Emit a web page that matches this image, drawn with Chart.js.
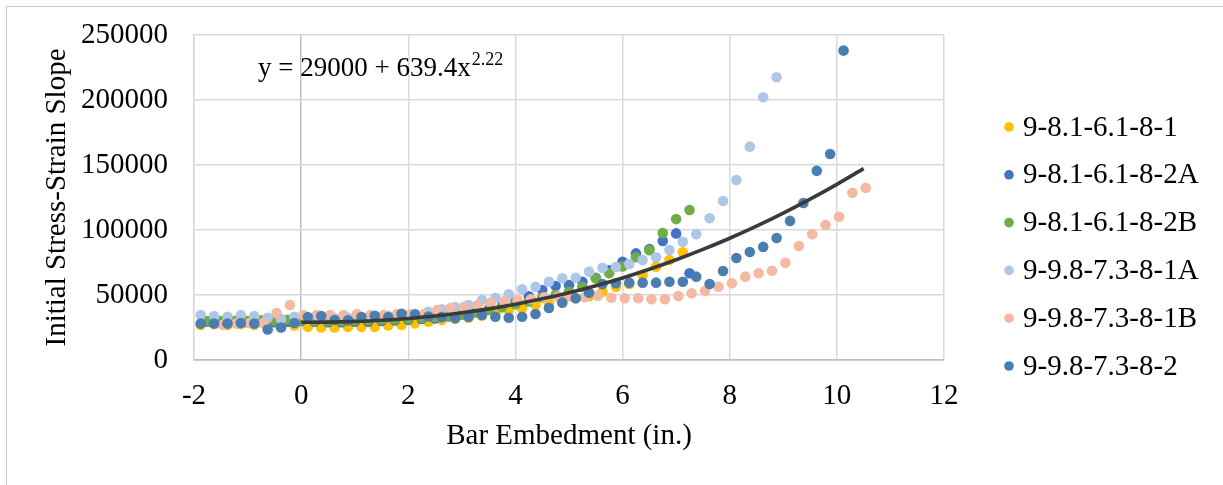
<!DOCTYPE html>
<html>
<head>
<meta charset="utf-8">
<script src="https://cdn.jsdelivr.net/npm/chart.js@4.4.0/dist/chart.umd.min.js"></script>
<style>
  html, body { margin: 0; padding: 0; background: #fff; }
  #wrap { width: 1223px; height: 485px; position: relative; }
</style>
</head>
<body>
<div id="wrap"><canvas id="chart"></canvas></div>
<script>
// Values

const seriesNames = ['9-8.1-6.1-8-1', '9-8.1-6.1-8-2A', '9-8.1-6.1-8-2B', '9-9.8-7.3-8-1A', '9-9.8-7.3-8-1B', '9-9.8-7.3-8-2'];
const seriesColors = ['#FFC000', '#4472C4', '#70AD47', '#AEC6E8', '#F4B9A3', '#4A7EB0'];

const xTicks = [-2, 0, 2, 4, 6, 8, 10, 12];
const yTicks = [0, 50000, 100000, 150000, 200000, 250000];

// x positions (in.) for the series that share a spacing
const xGridA = [-1.875, -1.625, -1.375, -1.125, -0.875, -0.625, -0.375, -0.125, 0.125, 0.375, 0.625, 0.875,
    1.125, 1.375, 1.625, 1.875, 2.125, 2.375, 2.625, 2.875, 3.125, 3.375, 3.625, 3.875, 4.125, 4.375,
    4.625, 4.875, 5.125, 5.375, 5.625, 5.875, 6.125, 6.375, 6.625, 6.875, 7.125, 7.375, 7.625, 7.875,
    8.125, 8.375, 8.625, 8.875, 9.125, 9.375, 9.625, 9.875, 10.125];
const xGridB = [-1.75, -1.5, -1.25, -1, -0.75, -0.5, -0.25, 0, 0.25, 0.5, 0.75, 1, 1.25, 1.5, 1.75, 2,
    2.25, 2.5, 2.75, 3, 3.25, 3.5, 3.75, 4, 4.25, 4.5, 4.75, 5, 5.25, 5.5, 5.75, 6, 6.25, 6.5, 6.75, 7, 7.25];
const xSalmon = [-1.46, -1.21, -0.96, -0.71, -0.46, -0.21, 0.04, 0.29, 0.54, 0.79, 1.04, 1.29, 1.54, 1.79,
    2.04, 2.29, 2.54, 2.79, 3.04, 3.29, 3.54, 3.79, 4.04, 4.29, 4.54, 4.79, 5.04, 5.29, 5.54, 5.79, 6.04,
    6.29, 6.54, 6.79, 7.04, 7.29, 7.54, 7.79, 8.04, 8.29, 8.54, 8.79, 9.04, 9.29, 9.54, 9.79, 10.04, 10.29, 10.54];

const y81_1 = [27000, 27500, 27000, 27500, 27000, 27500, 27500, 26500, 25500, 25000, 25000, 25500,
    25500, 25500, 26500, 27000, 28200, 29500, 30800, 31500, 32500, 34000, 36000, 38500, 39800, 42300,
    43600, 45500, 47500, 49000, 52500, 56400, 58500, 65400, 71800, 76900, 82800];
const y81_2A = [29500, 29000, 29500, 29000, 29500, 29000, 29500, 30000, 29500, 29000, 29000, 29500,
    29500, 30000, 30500, 31000, 31500, 32000, 33500, 35000, 37000, 39000, 41500, 45000, 49000, 53800,
    56900, 57700, 60200, 63300, 69000, 75600, 82000, 85400, 91500, 97400, 66700];
const y81_2B = [30000, 30000, 30000, 30000, 30500, 30500, 31000, 30500, 30000, 30000, 30000, 30500,
    30500, 31000, 31500, 32000, 32500, 33000, 34000, 35000, 36500, 38500, 40500, 43000, 45000, 48000,
    50000, 52500, 56400, 62800, 66700, 72000, 79000, 84500, 97700, 108400, 115400];
const y98_1A = [34600, 33800, 33300, 34600, 33800, 32500, 31500, 33300, 31000, 31500, 32000, 32500,
    33000, 33500, 34000, 34500, 35500, 37100, 39000, 40500, 42300, 46200, 47900, 50500, 54400, 56400,
    60200, 62800, 63300, 68000, 71000, 71500, 73800, 76900, 79000, 84600, 91000, 96800, 109000, 122300,
    138500, 164100, 202100, 217500];
const y98_1B = [27000, 28000, 28500, 28500, 36200, 42300, 34600, 34600, 34600, 34600, 35400, 34600,
    34600, 35400, 35400, 35400, 38500, 40000, 41000, 42300, 44100, 45400, 46200, 46700, 48200, 48700,
    48700, 48200, 49500, 47900, 47500, 47500, 46700, 46700, 49200, 51300, 53300, 56400, 59000, 64100,
    66700, 68700, 74800, 87700, 96700, 103800, 110200, 128700, 132500];
const y98_2 = [28000, 28000, 28000, 28500, 28000, 23500, 25000, 28500, 33000, 33800, 30800, 30500,
    33000, 34000, 33000, 35500, 35000, 33500, 33000, 32300, 33300, 34600, 33300, 32500, 33300, 35400,
    40000, 44100, 47500, 51800, 58500, 59000, 59500, 59500, 59500, 60200, 60200, 64100, 58500, 68500,
    78500, 83100, 87000, 93800, 107000, 120800, 145500, 158500, 238000];

// power trend line
const trendX = [0, 0.5, 1, 1.5, 2, 2.5, 3, 3.5, 4, 4.5, 5, 5.5, 6, 6.5, 7, 7.5, 8, 8.5, 9, 9.5, 10, 10.5];
const trendY = [29000, 29140, 29640, 30570, 31980, 33890, 36330, 39320, 42880, 47030, 51780, 57140,
    63140, 69770, 77080, 85040, 93660, 102980, 112990, 123700, 135140, 147230];
const trendLabel = 'y = 29000 + 639.4x';
const trendExponent = '2.22';

const seriesX = [xGridA, xGridB, xGridB, xGridA, xSalmon, xGridA];
const seriesY = [y81_1, y81_2A, y81_2B, y98_1A, y98_1B, y98_2];

const FONT = '"Liberation Serif", "Times New Roman", serif';

function toPoints(xs, ys) {
    return ys.map((y, i) => ({ x: xs[i], y: y }));
}

const datasets = seriesNames.map((name, i) => ({
    type: 'scatter',
    label: name,
    data: toPoints(seriesX[i], seriesY[i]),
    backgroundColor: seriesColors[i],
    borderWidth: 0,
    pointRadius: 5.3,
    pointHoverRadius: 5.3,
    order: seriesNames.length - i   // later series drawn on top, like the original
}));

datasets.push({
    type: 'line',
    label: 'trend',
    data: toPoints(trendX, trendY),
    borderColor: '#3A3A3A',
    borderWidth: 3.6,
    pointRadius: 0,
    fill: false,
    cubicInterpolationMode: 'monotone',
    order: 0
});

// white background, outer frame, equation and legend
const decorations = {
    id: 'decorations',
    beforeDraw(chart) {
        const ctx = chart.ctx;
        ctx.save();
        ctx.fillStyle = '#fff';
        ctx.fillRect(0, 0, chart.width, chart.height);
        ctx.strokeStyle = '#C8C8C8';
        ctx.lineWidth = 1;
        ctx.beginPath();
        ctx.moveTo(6.5, chart.height);
        ctx.lineTo(6.5, 6.5);
        ctx.lineTo(chart.width, 6.5);
        ctx.stroke();
        ctx.restore();
    },
    afterDraw(chart) {
        const ctx = chart.ctx;
        ctx.save();
        ctx.fillStyle = '#000';
        ctx.textBaseline = 'alphabetic';
        ctx.textAlign = 'left';
        ctx.font = '27px ' + FONT;
        const ex = 258, ey = 76;
        ctx.fillText(trendLabel, ex, ey);
        const w = ctx.measureText(trendLabel).width;
        ctx.font = '18px ' + FONT;
        ctx.fillText(trendExponent, ex + w + 1, ey - 11);

        // legend
        ctx.font = '29px ' + FONT;
        ctx.textBaseline = 'middle';
        const legendTop = 127, legendStep = 47.8;
        seriesNames.forEach((name, i) => {
            const y = legendTop + i * legendStep;
            ctx.fillStyle = seriesColors[i];
            ctx.beginPath();
            ctx.arc(1009, y, 4.8, 0, Math.PI * 2);
            ctx.fill();
            ctx.fillStyle = '#000';
            ctx.fillText(name, 1023, y + 1);
        });
        ctx.restore();
    }
};

const gridColor = '#D9D9D9';
const axisColor = '#BFBFBF';

new Chart(document.getElementById('chart').getContext('2d'), {
    data: { datasets: datasets },
    options: {
        responsive: true,
        maintainAspectRatio: false,
        animation: false,
        layout: { padding: { top: 35, right: 279, left: 0, bottom: 0 } },
        plugins: {
            legend: { display: false },
            tooltip: { enabled: false }
        },
        scales: {
            x: {
                type: 'linear',
                min: -2,
                max: 12,
                afterBuildTicks: (scale) => { scale.ticks = xTicks.map(v => ({ value: v })); },
                afterFit: (scale) => { scale.height = 125; },
                grid: {
                    drawTicks: false,
                    lineWidth: 1.5,
                    color: (c) => (c.tick && c.tick.value === 0 ? axisColor : gridColor)
                },
                border: { color: axisColor, width: 1.5 },
                ticks: {
                    padding: 19,
                    color: '#000',
                    font: { family: FONT, size: 29 },
                    maxRotation: 0,
                    callback: (v) => String(v)
                },
                title: {
                    display: true,
                    text: 'Bar Embedment (in.)',
                    color: '#000',
                    font: { family: FONT, size: 29 },
                    padding: { top: 0, bottom: 31 }
                }
            },
            y: {
                type: 'linear',
                min: 0,
                max: 250000,
                afterBuildTicks: (scale) => { scale.ticks = yTicks.map(v => ({ value: v })); },
                afterFit: (scale) => { scale.width = 194; },
                grid: {
                    drawTicks: false,
                    lineWidth: 1.5,
                    color: (c) => (c.tick && c.tick.value === 0 ? axisColor : gridColor)
                },
                border: { color: gridColor, width: 1.5 },
                ticks: {
                    padding: 26,
                    color: '#000',
                    // small lineHeight keeps the label overhang from pushing the plot down
                    font: { family: FONT, size: 29, lineHeight: 0.5 },
                    callback: (v) => String(v)
                },
                title: {
                    display: true,
                    text: 'Initial Stress-Strain Slope',
                    color: '#000',
                    font: { family: FONT, size: 29 },
                    padding: { top: 40, bottom: 0 }
                }
            }
        }
    },
    plugins: [decorations]
});
</script>
</body>
</html>
